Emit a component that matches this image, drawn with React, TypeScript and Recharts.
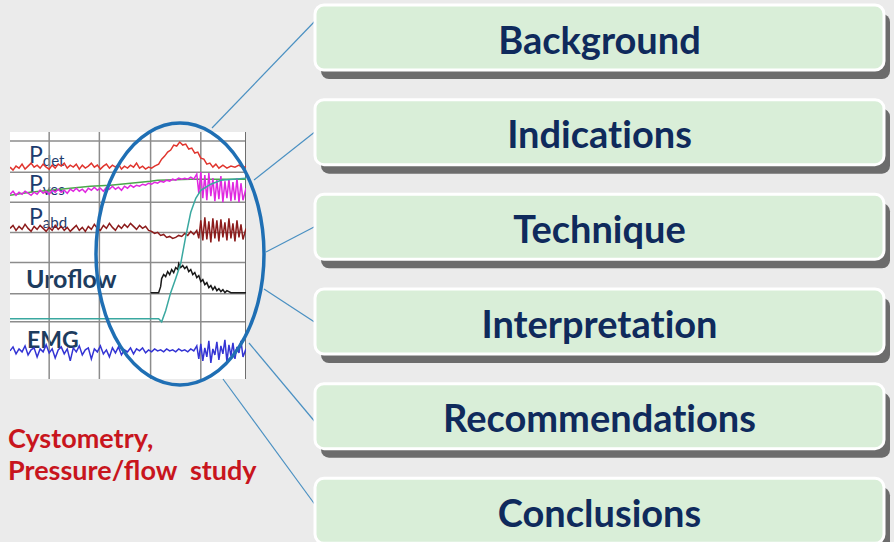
import { Bar, BarChart, Line, LineChart, ReferenceLine, XAxis, YAxis } from "recharts";

// outline topics shown in the boxes
const topics = ["Background", "Indications", "Technique", "Interpretation", "Recommendations", "Conclusions"];

// urodynamic traces: [time, level]
const pdet: [number, number][] = [
  [0, 211], [3, 208], [6, 212], [9, 210], [12, 214], [15, 209], [18, 212], [21, 215], [24, 211], [27, 213],
  [30, 210], [33, 214], [36, 211], [39, 209], [42, 213], [45, 210], [48, 214], [51, 212], [54, 215], [57, 210],
  [60, 213], [63, 211], [66, 214], [69, 209], [72, 213], [75, 210], [78, 212], [81, 215], [84, 211], [87, 213],
  [90, 209], [93, 212], [96, 214], [99, 210], [102, 213], [105, 211], [108, 214], [111, 209], [114, 212], [117, 210],
  [120, 213], [123, 211], [126, 215], [129, 210], [132, 212], [135, 209], [138, 211], [141, 210], [144, 212], [148, 214],
  [151, 219], [154, 222], [157, 226], [160, 228], [163, 233], [166, 232], [169, 236], [172, 233], [175, 234], [178, 229],
  [181, 230], [184, 225], [187, 226], [190, 220], [193, 219], [196, 214], [199, 215], [202, 211], [205, 214], [208, 210],
  [212, 213], [216, 210], [220, 212], [224, 211], [228, 213], [232, 210], [235, 212],
];

const pves: [number, number][] = [
  [0, 184], [3, 187], [6, 183], [9, 186], [12, 184], [15, 187], [18, 185], [21, 183], [24, 186], [27, 184],
  [30, 188], [33, 185], [36, 187], [39, 184], [42, 188], [45, 186], [48, 189], [51, 186], [54, 188], [57, 185],
  [60, 189], [63, 187], [66, 190], [69, 187], [72, 189], [75, 186], [78, 190], [81, 188], [84, 191], [87, 188],
  [90, 190], [93, 187], [96, 191], [99, 189], [102, 192], [105, 189], [108, 191], [111, 188], [114, 192], [117, 190],
  [120, 193], [123, 191], [126, 193], [129, 192], [132, 194], [135, 193], [138, 195], [141, 194], [144, 196], [147, 195],
  [150, 197], [153, 196], [156, 198], [159, 197], [162, 199], [165, 198], [168, 200], [171, 199], [174, 200], [177, 199],
  [180, 201], [183, 199], [186, 204], [188, 185], [190, 206], [192, 180], [194, 203], [196, 178], [198, 205], [200, 182],
  [202, 200], [204, 177], [206, 198], [208, 179], [210, 202], [212, 176], [214, 197], [216, 180], [218, 199], [220, 177],
  [222, 196], [224, 178], [226, 200], [228, 176], [230, 195], [232, 178], [235, 190],
];

const infused: [number, number][] = [
  [0, 183], [20, 186], [40, 188], [60, 190], [80, 192], [100, 193], [120, 195], [140, 197], [147, 198], [180, 199], [235, 199],
];

const pabd: [number, number][] = [
  [0, 150], [3, 153], [6, 148], [9, 152], [12, 149], [15, 154], [18, 150], [21, 147], [24, 152], [27, 149],
  [30, 153], [33, 150], [36, 147], [39, 151], [42, 148], [45, 153], [48, 149], [51, 152], [54, 148], [57, 151],
  [60, 147], [63, 150], [66, 153], [69, 148], [72, 151], [75, 147], [78, 152], [81, 149], [84, 154], [87, 150],
  [90, 148], [93, 153], [96, 150], [99, 155], [102, 151], [105, 148], [108, 153], [111, 150], [114, 154], [117, 151],
  [120, 155], [123, 152], [126, 149], [129, 153], [132, 150], [135, 152], [138, 148], [141, 147], [144, 145], [147, 146],
  [150, 143], [153, 144], [156, 141], [159, 142], [162, 140], [165, 141], [168, 143], [171, 142], [174, 145], [177, 143],
  [180, 147], [183, 144], [186, 148], [188, 140], [190, 158], [192, 138], [194, 161], [196, 139], [198, 157], [200, 136],
  [202, 160], [204, 140], [206, 158], [208, 137], [210, 159], [212, 141], [214, 156], [216, 138], [218, 160], [220, 140],
  [222, 155], [224, 137], [226, 158], [228, 141], [230, 154], [232, 139], [235, 150],
];

const uroflow: [number, number][] = [
  [140, 86], [148, 86], [150, 92], [151, 100], [153, 104], [155, 102], [157, 107], [159, 104], [161, 109], [163, 106],
  [165, 111], [167, 109], [168, 115], [170, 111], [172, 113], [174, 110], [176, 112], [178, 107], [180, 109], [182, 104],
  [184, 106], [186, 101], [188, 103], [190, 97], [192, 99], [194, 94], [196, 96], [198, 91], [200, 93], [202, 89],
  [204, 92], [206, 88], [208, 90], [210, 87], [212, 89], [214, 86], [216, 88], [220, 86], [235, 86],
];

const volume: [number, number][] = [
  [0, 60], [60, 60], [120, 60], [148, 60], [151, 57], [155, 68], [160, 86], [165, 100], [170, 115], [175, 142],
  [180, 166], [185, 180], [190, 188], [200, 194], [210, 198], [222, 199], [235, 200],
];

const emg: [number, number][] = [
  [0, 28], [3, 32], [6, 25], [9, 30], [12, 27], [15, 33], [18, 24], [21, 29], [24, 31], [27, 22],
  [30, 30], [33, 27], [36, 34], [39, 26], [42, 30], [45, 21], [48, 29], [51, 32], [54, 25], [57, 30],
  [60, 18], [63, 31], [66, 27], [69, 33], [72, 24], [75, 29], [78, 31], [81, 20], [84, 30], [87, 27],
  [90, 33], [93, 25], [96, 29], [99, 22], [102, 31], [105, 26], [108, 32], [111, 24], [114, 29], [117, 27],
  [120, 31], [123, 25], [126, 30], [129, 28], [132, 31], [135, 26], [138, 29], [141, 27], [144, 30], [147, 28],
  [150, 29], [153, 27], [156, 30], [159, 28], [162, 29], [165, 27], [168, 30], [171, 28], [174, 29], [177, 27],
  [180, 30], [183, 28], [186, 33], [188, 20], [190, 35], [192, 18], [194, 31], [196, 22], [198, 38], [200, 16],
  [202, 30], [204, 24], [206, 37], [208, 19], [210, 33], [212, 25], [214, 39], [216, 17], [218, 34], [220, 23],
  [222, 36], [224, 20], [226, 32], [228, 26], [230, 38], [232, 22], [235, 30],
];

// grid of the recorder paper
const gridTimes = [39, 89, 140, 190];
const gridLevels = [237, 206, 176, 146, 116, 85, 57];

const traces = [
  { key: "pdet", data: pdet, color: "#e0352e" },
  { key: "infused", data: infused, color: "#4aa84a" },
  { key: "pves", data: pves, color: "#e028e0" },
  { key: "pabd", data: pabd, color: "#8c1c1c" },
  { key: "uroflow", data: uroflow, color: "#1a1a1a" },
  { key: "volume", data: volume, color: "#3aa8a0" },
  { key: "emg", data: emg, color: "#3434d4" },
];

const toRows = (pts: [number, number][]) => pts.map(([t, v]) => ({ t, v }));

const FONT = "Lato, 'Open Sans', sans-serif";
const noLig = { fontVariantLigatures: "none" as const, fontFeatureSettings: "'liga' 0, 'dlig' 0" };

function TopicBox(props: any) {
  const { x, y, width, height, payload } = props;
  return (
    <g>
      <rect x={x + 6} y={y + 9} width={width} height={height} rx={8} fill="#6c6c6c" />
      <rect x={x} y={y} width={width} height={height} rx={9} fill="#d9eed8" stroke="#ffffff" strokeWidth={3} />
      <text
        x={x + width / 2}
        y={y + height / 2 + 1}
        textAnchor="middle"
        dominantBaseline="central"
        fontFamily={FONT}
        fontWeight={700}
        fontSize={38}
        fill="#0f2a5c"
        style={noLig}
      >
        {payload.name}
      </text>
    </g>
  );
}

function ChannelLabel({ x, y, sub }: { x: number; y: number; sub: string }) {
  return (
    <text x={x} y={y} fontFamily={FONT} fill="#1d3c6e" fontSize={23}>
      P
      <tspan fontSize={15} dy={3}>
        {sub}
      </tspan>
    </text>
  );
}

export default function App() {
  const boxRows = topics.map((name) => ({ name, span: 1 }));
  return (
    <div
      style={{
        position: "absolute",
        left: 0,
        top: 0,
        width: 894,
        height: 542,
        overflow: "hidden",
        background: "#ebebeb",
      }}
    >
      {/* recorder panel */}
      <div style={{ position: "absolute", left: 10, top: 132, width: 236, height: 247, background: "#ffffff" }} />
      <svg width={894} height={542} style={{ position: "absolute", left: 0, top: 0 }}>
        <ChannelLabel x={29} y={163} sub="det" />
        <ChannelLabel x={29} y={192} sub="ves" />
        <ChannelLabel x={29} y={225} sub="abd" />
        <text x={26} y={288} fontFamily={FONT} fontWeight={700} fontSize={25} fill="#1d3c5e">
          Uroflow
        </text>
        <text x={27} y={348} fontFamily={FONT} fontWeight={700} fontSize={23} fill="#1d3c5e">
          EMG
        </text>
      </svg>
      <div style={{ position: "absolute", left: 10, top: 132 }}>
        <LineChart width={236} height={247} margin={{ top: 0, right: 0, bottom: 0, left: 0 }}>
          <XAxis type="number" dataKey="t" domain={[0, 235]} hide allowDataOverflow />
          <YAxis type="number" domain={[0, 246]} hide allowDataOverflow />
          {gridTimes.map((t) => (
            <ReferenceLine key={"t" + t} x={t} stroke="#8c8c8c" strokeWidth={1.5} />
          ))}
          {gridLevels.map((h) => (
            <ReferenceLine key={"h" + h} y={h} stroke="#8c8c8c" strokeWidth={1.5} />
          ))}
          <ReferenceLine x={235} stroke="#6e6e6e" strokeWidth={2} ifOverflow="extendDomain" />
          {traces.map((s) => (
            <Line
              key={s.key}
              data={toRows(s.data)}
              dataKey="v"
              type="linear"
              stroke={s.color}
              strokeWidth={1.5}
              dot={false}
              isAnimationActive={false}
            />
          ))}
        </LineChart>
      </div>

      {/* highlight ellipse and connectors */}
      <svg width={894} height={542} style={{ position: "absolute", left: 0, top: 0 }}>
        <ellipse cx={180} cy={254} rx={84} ry={131} fill="none" stroke="#1f6fb4" strokeWidth={3.5} />
        <g stroke="#4a90c2" strokeWidth={1.2}>
          <line x1={212} y1={128} x2={316} y2={20} />
          <line x1={254} y1={180} x2={316} y2={131} />
          <line x1={266} y1={252} x2={316} y2={226} />
          <line x1={264} y1={289} x2={316} y2={323} />
          <line x1={249} y1={343} x2={316} y2={423} />
          <line x1={223} y1={379} x2={316} y2={506} />
        </g>
        <text fontFamily={FONT} fontWeight={700} fontSize={27} fill="#c8151d">
          <tspan x={8} y={448}>Cystometry,</tspan>
          <tspan x={8} y={480} xmlSpace="preserve">Pressure/flow  study</tspan>
        </text>
      </svg>

      <div style={{ position: "absolute", left: 313, top: -10 }}>
        <BarChart
          width={578}
          height={568}
          layout="vertical"
          data={boxRows}
          barCategoryGap={15}
          margin={{ top: 0, right: 7, bottom: 0, left: 2 }}
        >
          <XAxis type="number" domain={[0, 1]} hide />
          <YAxis type="category" dataKey="name" hide />
          <Bar dataKey="span" shape={TopicBox} isAnimationActive={false} />
        </BarChart>
      </div>
    </div>
  );
}
